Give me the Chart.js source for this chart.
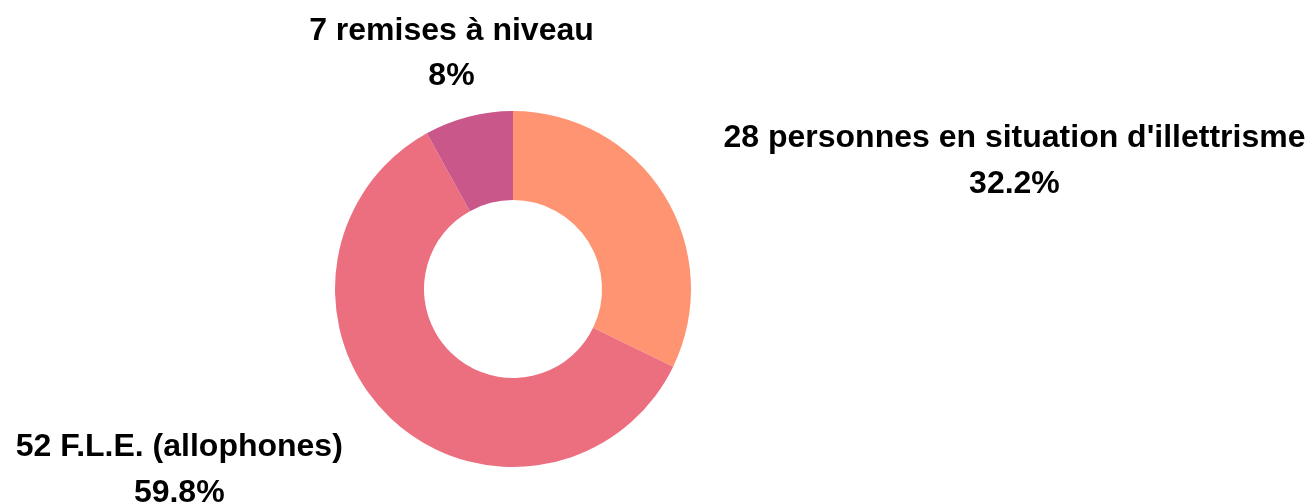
<!DOCTYPE html>
<html>
<head>
<meta charset="utf-8">
<script src="https://cdn.jsdelivr.net/npm/chart.js@4/dist/chart.umd.min.js"></script>
<style>
  html, body { margin: 0; padding: 0; background: #fff; }
  #wrap { width: 1312px; height: 502px; }
</style>
</head>
<body>
<div id="wrap"><canvas id="donut"></canvas></div>
<script>
const labels = ["personnes en situation d'illettrisme", "F.L.E. (allophones)", "remises à niveau"];
const counts = [28, 52, 7];
const colors = ['#FF9473', '#EC6F80', '#C9578A'];

const total = counts.reduce((a, b) => a + b, 0);

// draws "N label" + percentage outside each slice
const outsideLabels = {
    id: 'outsideLabels',
    afterDatasetsDraw(chart) {
        const ctx = chart.ctx;
        const meta = chart.getDatasetMeta(0);
        const cap = 23;      // cap height of 32px bold
        const gap = 45.5;    // distance between the two lines
        ctx.save();
        ctx.font = 'bold 32px "Liberation Sans", Arial, sans-serif';
        ctx.fillStyle = '#000';
        ctx.textBaseline = 'alphabetic';
        ctx.textAlign = 'center';
        meta.data.forEach((arc, i) => {
            const mid = (arc.startAngle + arc.endAngle) / 2;
            const r = arc.outerRadius + 68;
            const x = arc.x + Math.cos(mid) * r;
            const y = arc.y + Math.sin(mid) * r;
            const line1 = counts[i] + ' ' + labels[i];
            const line2 = (Math.round(counts[i] / total * 1000) / 10) + '%';
            const w = Math.max(ctx.measureText(line1).width, ctx.measureText(line2).width);
            let cx = x;
            const c = Math.cos(mid);
            if (c > 0.4) cx = x + 2 + w / 2;
            else if (c < -0.4) cx = x - 1 - w / 2;
            ctx.fillText(line1, cx, y - gap / 2 + cap / 2);
            ctx.fillText(line2, cx, y + gap / 2 + cap / 2);
        });
        ctx.restore();
    }
};

new Chart(document.getElementById('donut'), {
    type: 'doughnut',
    data: {
        labels: labels,
        datasets: [{
            data: counts,
            backgroundColor: colors,
            borderWidth: 0,
            hoverOffset: 0
        }]
    },
    options: {
        responsive: true,
        maintainAspectRatio: false,
        animation: false,
        cutout: '50%',
        layout: {
            padding: {top: 111, bottom: 35, left: 335, right: 621}
        },
        plugins: {
            legend: {display: false},
            tooltip: {enabled: false}
        }
    },
    plugins: [outsideLabels]
});
</script>
</body>
</html>
